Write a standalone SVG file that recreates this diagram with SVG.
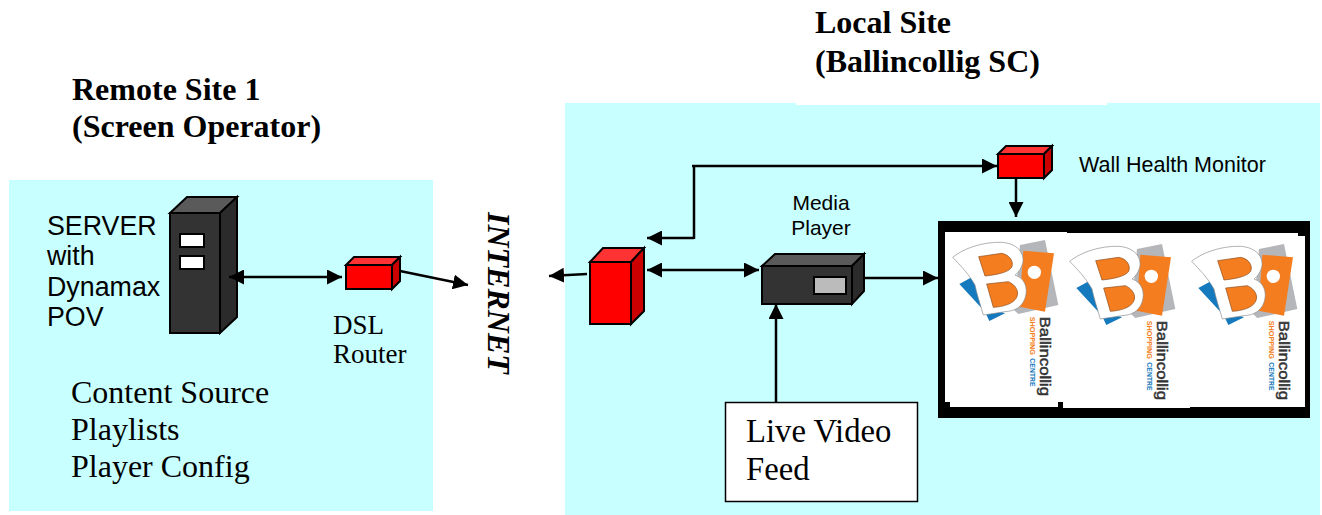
<svg xmlns="http://www.w3.org/2000/svg" width="1322" height="515" viewBox="0 0 1322 515">
<style>
.s{font-family:"Liberation Sans",Arial,sans-serif;fill:#000}
.t{font-family:"Liberation Serif","Times New Roman",serif;fill:#000}
.b{font-weight:bold;font-size:32px}
.c{font-size:32px}
.line{stroke:#000;stroke-width:2.5;fill:none}
.dark{stroke:#000;stroke-width:2;stroke-linejoin:miter}
</style>
<defs>
<marker id="head" viewBox="0 0 15 15" refX="15" refY="7.5" markerWidth="15" markerHeight="15" markerUnits="userSpaceOnUse" orient="auto-start-reverse"><path d="M0 0L15 7.5L0 15Z" fill="#000"/></marker>
<symbol id="logo" overflow="visible" viewBox="0 0 400 600" width="133.33" height="200">
<path d="M270 105L345 90L385 285L265 312L252 300Z" fill="#b4b6ba"/>
<path d="M88 222L128 200L170 290L225 310L178 333L165 305Z" fill="#1479bd"/>
<path d="M280 122L372 130L345 305L268 290Z" fill="#f47d20"/>
<path d="M68 142C100 115 160 95 215 97C262 100 285 130 278 160C272 180 262 190 255 195C285 205 295 235 285 265C275 292 255 303 225 305L160 315C150 280 140 250 135 225C115 190 90 165 68 142Z" fill="#fff" stroke="#8b8b8b" stroke-width="2"/>
<path d="M146 140L215 130C240 135 252 155 245 172C235 188 195 195 165 198Z" fill="#f47d20" stroke="#8a4a18" stroke-width="2"/>
<path d="M170 222L235 215C258 225 268 245 260 262C250 282 220 290 190 292Z" fill="#f47d20" stroke="#8a4a18" stroke-width="2"/>
<circle cx="313" cy="187" r="20" fill="#fff"/>
<text transform="translate(331 320) rotate(90)" class="s" style="font-size:45px;fill:#333;stroke:#333;stroke-width:1.5" textLength="238" lengthAdjust="spacingAndGlyphs">Ballincollig</text>
<text transform="translate(300 320) rotate(90)" class="s" style="font-size:20px;font-weight:bold;fill:#f47d20" textLength="115" lengthAdjust="spacingAndGlyphs">SHOPPING</text>
<text transform="translate(300 445) rotate(90)" class="s" style="font-size:20px;font-weight:bold;fill:#1479bd" textLength="85" lengthAdjust="spacingAndGlyphs">CENTRE</text>
</symbol>
</defs>

<rect x="9" y="180" width="424" height="331" fill="#c8ffff"/>
<path d="M565 103H796V105H1107V103H1320V515H565Z" fill="#c8ffff"/>

<g id="title-remote" class="t b">
<text x="72" y="100">Remote Site 1</text>
<text x="72" y="137">(Screen Operator)</text>
</g>
<g id="title-local" class="t b">
<text x="815" y="33">Local Site</text>
<text x="815" y="72">(Ballincollig SC)</text>
</g>

<g id="server">
<path class="dark" d="M170 213L187 197H237L220 213Z" fill="#5a5a5a"/>
<path class="dark" d="M220 213L237 197V317L220 333Z" fill="#2b2b2b"/>
<rect class="dark" x="170" y="213" width="50" height="120" fill="#333"/>
<rect class="dark" x="180" y="234" width="24" height="13" fill="#fff"/>
<rect class="dark" x="180" y="256" width="24" height="13" fill="#fff"/>
</g>
<g id="server-label" class="s" style="font-size:26.800px">
<text x="47" y="235">SERVER</text>
<text x="47" y="265">with</text>
<text x="47" y="296">Dynamax</text>
<text x="47" y="326">POV</text>
</g>
<g id="content-source" class="t c">
<text x="71" y="403">Content Source</text>
<text x="71" y="440">Playlists</text>
<text x="71" y="477">Player Config</text>
</g>

<g id="dsl-router">
<path class="dark" d="M346 265L354 257H400L392 265Z" fill="#f33"/>
<path class="dark" d="M392 265L400 257V281L392 289Z" fill="#c00"/>
<rect class="dark" x="346" y="265" width="46" height="24" fill="#f00"/>
<text class="t" x="333" y="334" font-size="27">DSL</text>
<text class="t" x="333" y="363" font-size="27">Router</text>
</g>

<text id="internet" class="t" transform="translate(488 212) rotate(90)" style="font-size:32px;font-weight:bold;font-style:italic">INTERNET</text>

<g id="gateway">
<path class="dark" d="M590 262L603 248H644L631 262Z" fill="#f33"/>
<path class="dark" d="M631 262L644 248V311L631 324Z" fill="#c00"/>
<rect class="dark" x="590" y="262" width="41" height="62" fill="#f00"/>
</g>

<g id="media-player">
<path class="dark" d="M762 266L775 254H864L852 266Z" fill="#5a5a5a"/>
<path class="dark" d="M852 266L864 254V291L852 304Z" fill="#2b2b2b"/>
<rect class="dark" x="762" y="266" width="90" height="38" fill="#333"/>
<rect class="dark" x="814" y="277" width="32" height="17" fill="#bbb"/>
<g class="s" style="font-size:21px" text-anchor="middle">
<text x="821" y="210">Media</text>
<text x="821" y="235">Player</text>
</g>
</g>

<g id="health-monitor">
<path class="dark" d="M998 154L1006 146H1052L1044 154Z" fill="#f33"/>
<path class="dark" d="M1044 154L1052 146V170L1044 178Z" fill="#c00"/>
<rect class="dark" x="998" y="154" width="46" height="24" fill="#f00"/>
<text class="s" x="1079" y="172" font-size="21.500">Wall Health Monitor</text>
</g>

<g id="video-wall">
<rect x="938" y="221" width="372" height="197" fill="#000"/>
<rect x="945" y="232" width="122" height="170" fill="#fff"/>
<rect x="950" y="402" width="108" height="5" fill="#fff"/>
<rect x="1063" y="233" width="127" height="175" fill="#fff"/>
<path d="M1187 233H1298V236H1305V407H1187Z" fill="#fff"/>
<use href="#logo" x="930" y="210"/>
<use href="#logo" x="1047" y="214"/>
<use href="#logo" x="1169" y="214"/>
</g>

<g id="live-video">
<rect x="725.500" y="402.500" width="192" height="99" fill="#fff" stroke="#000" stroke-width="1.500"/>
<text class="t" x="746" y="442" font-size="32.700">Live Video</text>
<text class="t" x="746" y="480" font-size="32.700">Feed</text>
</g>

<g id="connectors" class="line">
<path d="M229 277H342" marker-start="url(#head)" marker-end="url(#head)"/>
<path d="M400 271L468 285" marker-end="url(#head)"/>
<path d="M587 274L549 276" marker-end="url(#head)"/>
<path d="M647 270H759" marker-start="url(#head)" marker-end="url(#head)"/>
<path d="M694 238H647" marker-end="url(#head)"/>
<path d="M694 239V166"/>
<path d="M692 166H997" marker-end="url(#head)"/>
<path d="M1016 178V217" marker-end="url(#head)"/>
<path d="M865 278H938" marker-end="url(#head)"/>
<path d="M776 402V304" marker-end="url(#head)"/>
</g>
</svg>
